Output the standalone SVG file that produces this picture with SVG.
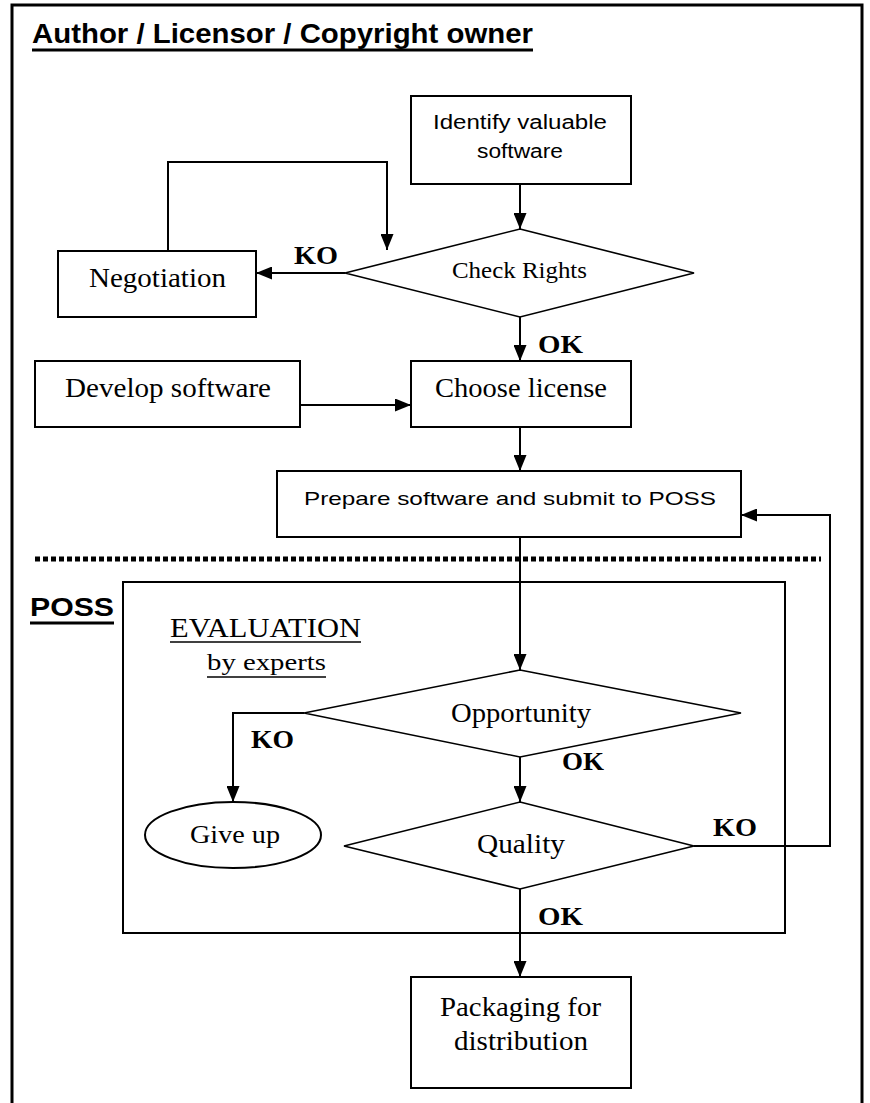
<svg xmlns="http://www.w3.org/2000/svg" width="870" height="1103" viewBox="0 0 870 1103">
  <style>
    .box { fill: #ffffff; stroke: #000; stroke-width: 2; }
    .dia { fill: #ffffff; stroke: #000; stroke-width: 1.6; }
    .edge { fill: none; stroke: #000; stroke-width: 2; }
    .serif { font-family: "Liberation Serif", "Times New Roman", serif; fill: #000; }
    .sans { font-family: "Liberation Sans", Arial, sans-serif; fill: #000; }
    .lbl { font-family: "Liberation Serif", "Times New Roman", serif; font-size: 25px; font-weight: bold; fill: #000; }
  </style>
  <defs>
    <marker id="arr" viewBox="0 0 16 13" refX="16" refY="6.5" markerWidth="16" markerHeight="13" orient="auto" markerUnits="userSpaceOnUse">
      <path d="M0,0 L16,6.5 L0,13 z" fill="#000"/>
    </marker>
  </defs>

  <rect x="0" y="0" width="870" height="1103" fill="#ffffff"/>

  <!-- outer frame (open at the bottom) -->
  <path d="M12,1103 V5 H862 V1103" fill="none" stroke="#000" stroke-width="3"/>

  <!-- section headings -->
  <g id="heading-author">
    <text class="sans" x="32" y="43" font-size="27" font-weight="bold" textLength="501" lengthAdjust="spacingAndGlyphs">Author / Licensor / Copyright owner</text>
    <line x1="32" y1="50" x2="533" y2="50" stroke="#000" stroke-width="3"/>
  </g>

  <!-- separator between the two parties -->
  <line id="separator" x1="35" y1="559" x2="821" y2="559" stroke="#000" stroke-width="5" stroke-dasharray="5 3"/>

  <g id="poss-area">
    <rect class="box" x="123" y="582" width="662" height="351"/>
    <text class="sans" x="30" y="616" font-size="26" font-weight="bold" textLength="84" lengthAdjust="spacingAndGlyphs">POSS</text>
    <line x1="30" y1="623" x2="114" y2="623" stroke="#000" stroke-width="3"/>
  </g>

  <g id="evaluation-title">
    <text class="serif" x="170" y="637" font-size="28" textLength="191" lengthAdjust="spacingAndGlyphs">EVALUATION</text>
    <line x1="170" y1="642" x2="361" y2="642" stroke="#000" stroke-width="1.5"/>
    <text class="serif" x="207" y="670" font-size="23" textLength="119" lengthAdjust="spacingAndGlyphs">by experts</text>
    <line x1="207" y1="677" x2="326" y2="677" stroke="#000" stroke-width="1.5"/>
  </g>

  <!-- connectors -->
  <g id="connectors">
    <path class="edge" d="M520,184 V229" marker-end="url(#arr)"/>
    <path class="edge" d="M345,273 H256" marker-end="url(#arr)"/>
    <path class="edge" d="M168,251 V162 H387 V250" marker-end="url(#arr)"/>
    <path class="edge" d="M520,317 V361" marker-end="url(#arr)"/>
    <path class="edge" d="M300,405 H411" marker-end="url(#arr)"/>
    <path class="edge" d="M520,427 V471" marker-end="url(#arr)"/>
    <path class="edge" d="M520,537 V670" marker-end="url(#arr)"/>
    <path class="edge" d="M304,713 H233 V802" marker-end="url(#arr)"/>
    <path class="edge" d="M520,757 V802" marker-end="url(#arr)"/>
    <path class="edge" d="M694,846 H830 V515 H741" marker-end="url(#arr)"/>
    <path class="edge" d="M520,889 V977" marker-end="url(#arr)"/>

    <text class="lbl" x="294" y="264" textLength="44" lengthAdjust="spacingAndGlyphs">KO</text>
    <text class="lbl" x="538" y="353" textLength="45" lengthAdjust="spacingAndGlyphs">OK</text>
    <text class="lbl" x="251" y="748" textLength="43" lengthAdjust="spacingAndGlyphs">KO</text>
    <text class="lbl" x="562" y="770" textLength="42" lengthAdjust="spacingAndGlyphs">OK</text>
    <text class="lbl" x="713" y="836" textLength="44" lengthAdjust="spacingAndGlyphs">KO</text>
    <text class="lbl" x="538" y="925" textLength="45" lengthAdjust="spacingAndGlyphs">OK</text>
  </g>

  <!-- nodes -->
  <g id="identify">
    <rect class="box" x="411" y="96" width="220" height="88"/>
    <text class="sans" x="433" y="129" font-size="20" textLength="174" lengthAdjust="spacingAndGlyphs">Identify valuable</text>
    <text class="sans" x="477" y="158" font-size="20" textLength="86" lengthAdjust="spacingAndGlyphs">software</text>
  </g>

  <g id="check-rights">
    <polygon class="dia" points="520,229 694,273 520,317 345,273"/>
    <text class="serif" x="452" y="278" font-size="23" textLength="135" lengthAdjust="spacingAndGlyphs">Check Rights</text>
  </g>

  <g id="negotiation">
    <rect class="box" x="58" y="251" width="198" height="66"/>
    <text class="serif" x="89" y="287" font-size="28" textLength="137" lengthAdjust="spacingAndGlyphs">Negotiation</text>
  </g>

  <g id="develop">
    <rect class="box" x="35" y="361" width="265" height="66"/>
    <text class="serif" x="65" y="397" font-size="27" textLength="206" lengthAdjust="spacingAndGlyphs">Develop software</text>
  </g>

  <g id="choose-license">
    <rect class="box" x="411" y="361" width="220" height="66"/>
    <text class="serif" x="435" y="397" font-size="27" textLength="172" lengthAdjust="spacingAndGlyphs">Choose license</text>
  </g>

  <g id="prepare">
    <rect class="box" x="277" y="471" width="464" height="66"/>
    <text class="sans" x="304" y="505" font-size="19" textLength="412" lengthAdjust="spacingAndGlyphs">Prepare software and submit to POSS</text>
  </g>

  <g id="opportunity">
    <polygon class="dia" points="520,670 741,713 520,757 304,713"/>
    <text class="serif" x="451" y="722" font-size="28" textLength="140" lengthAdjust="spacingAndGlyphs">Opportunity</text>
  </g>

  <g id="give-up">
    <ellipse class="box" cx="233" cy="835" rx="88" ry="33"/>
    <text class="serif" x="190" y="843" font-size="25" textLength="90" lengthAdjust="spacingAndGlyphs">Give up</text>
  </g>

  <g id="quality">
    <polygon class="dia" points="520,802 694,846 520,889 344,846"/>
    <text class="serif" x="477" y="853" font-size="28" textLength="88" lengthAdjust="spacingAndGlyphs">Quality</text>
  </g>

  <g id="packaging">
    <rect class="box" x="411" y="977" width="220" height="111"/>
    <text class="serif" x="440" y="1016" font-size="28" textLength="161" lengthAdjust="spacingAndGlyphs">Packaging for</text>
    <text class="serif" x="454" y="1050" font-size="28" textLength="134" lengthAdjust="spacingAndGlyphs">distribution</text>
  </g>
</svg>
